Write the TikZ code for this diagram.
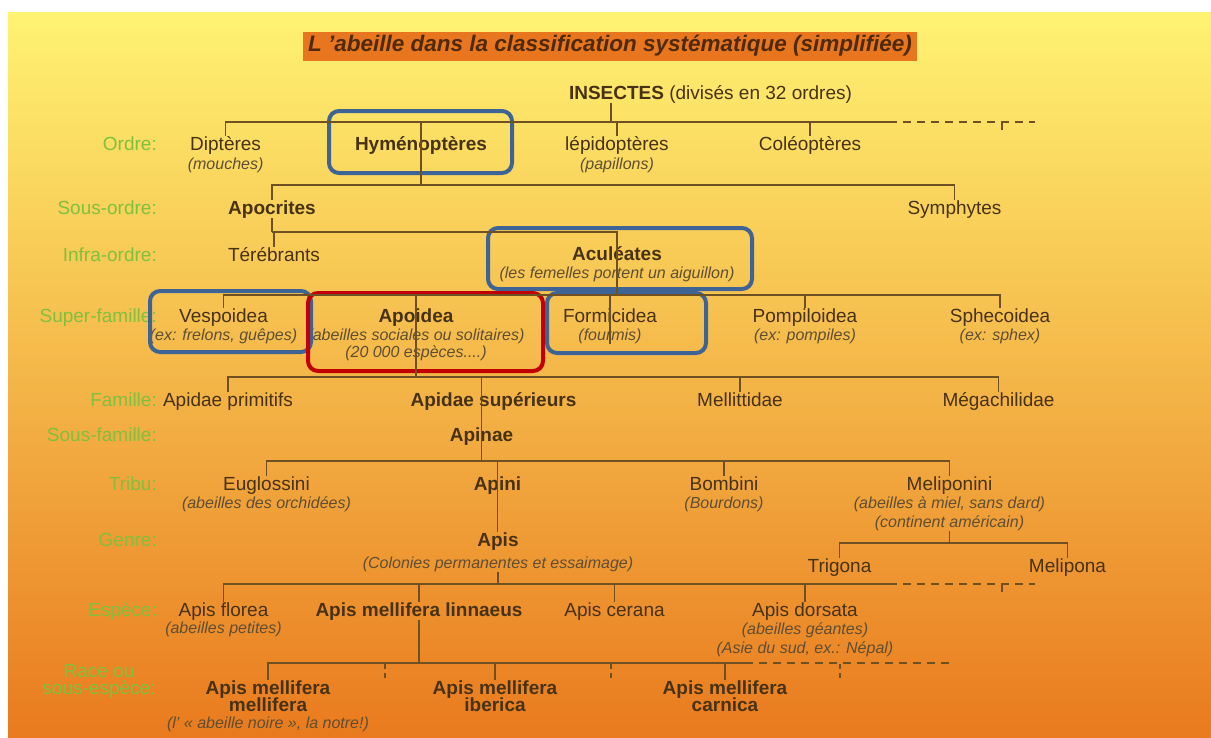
\documentclass[tikz,border=0pt]{standalone}
\usepackage{fontspec}
\setmainfont{Liberation Sans}
\usepackage{tikz}
\definecolor{texte}{RGB}{72,50,20}
\definecolor{gris}{RGB}{95,78,50}
\definecolor{trait}{RGB}{110,80,35}
\definecolor{vert}{RGB}{128,192,60}
\definecolor{bleu}{RGB}{62,100,150}
\definecolor{rouge}{RGB}{195,0,0}
\definecolor{jaune}{RGB}{255,243,115}
\definecolor{orangec}{RGB}{246,188,78}
\definecolor{oranged}{RGB}{233,122,30}
\definecolor{bandeau}{RGB}{232,118,30}
\definecolor{titre}{RGB}{80,42,12}
\newcommand{\sous}[1]{{\mdseries\itshape\fontsize{16}{19}\selectfont\color{gris}#1}}

\begin{document}
\begin{tikzpicture}[x=1pt, y=-1pt,
    taxon/.style={anchor=base, align=center, inner sep=0pt, text=texte, font=\fontsize{19}{19}\selectfont},
    gras/.style={taxon, font=\fontsize{19}{19}\selectfont\bfseries},
    niveau/.style={anchor=base east, inner sep=0pt, text=vert, font=\fontsize{19}{19}\selectfont},
    lien/.style={draw=trait, line width=1.3pt},
    pointille/.style={lien, dash pattern=on 8pt off 6pt},
    cadre/.style={line width=4pt, rounded corners=10pt}
  ]
  \useasboundingbox (0,0) rectangle (1211,737);
  \fill[white] (0,0) rectangle (1211,737);
  \shade[top color=jaune, middle color=orangec, bottom color=oranged] (8,12) rectangle (1211,737);

  % titre
  \node[fill=bandeau, text=titre, inner sep=0pt, minimum width=614, minimum height=29,
        font=\fontsize{22.5}{22.5}\selectfont\bfseries\itshape] (titre) at (610,46)
        {L ’abeille dans la classification systématique (simplifiée)};

  % niveaux (base = derniere ligne)
  \node[niveau] (l-ordre) at (157,150) {Ordre:};
  \node[niveau] (l-sordre) at (157,214) {Sous-ordre:};
  \node[niveau] (l-infra) at (157,261) {Infra-ordre:};
  \node[niveau] (l-super) at (157,322) {Super-famille:};
  \node[niveau] (l-fam) at (157,406) {Famille:};
  \node[niveau] (l-sfam) at (157,441) {Sous-famille:};
  \node[niveau] (l-tribu) at (157,490) {Tribu:};
  \node[niveau] (l-genre) at (157,546) {Genre:};
  \node[niveau] (l-espece) at (157,616) {Espèce:};
  \node[niveau, anchor=base, align=center] (l-race) at (99,694) {Race ou\\[-2pt]sous-espèce:};

  % taxons
  \node[taxon] (insectes) at (710.5,99) {\textbf{INSECTES} (divisés en 32 ordres)};

  \node[taxon] (dipt) at (225.6,169) {Diptères\\\sous{(mouches)}};
  \node[gras] (hym) at (421,150) {Hyménoptères};
  \node[taxon] (lepi) at (617,169) {lépidoptères\\\sous{(papillons)}};
  \node[taxon] (coleo) at (810,150) {Coléoptères};

  \node[gras] (apoc) at (272,214) {Apocrites};
  \node[taxon] (symph) at (954.5,214) {Symphytes};

  \node[taxon] (tereb) at (274,261) {Térébrants};
  \node[gras] (acu) at (617,278) {Aculéates\\[-1pt]\sous{(les femelles portent un aiguillon)}};

  \node[taxon] (vesp) at (223.5,340) {Vespoidea\\[-1pt]\sous{(ex: frelons, guêpes)}};
  \node[gras] (apoi) at (416,357) {Apoidea\\[-1pt]\sous{(abeilles sociales ou solitaires)}\\[-2pt]\sous{(20 000 espèces....)}};
  \node[taxon] (formi) at (610,340) {Formicidea\\[-1pt]\sous{(fourmis)}};
  \node[taxon] (pomp) at (805,340) {Pompiloidea\\[-1pt]\sous{(ex: pompiles)}};
  \node[taxon] (sphec) at (1000,340) {Sphecoidea\\[-1pt]\sous{(ex: sphex)}};

  \node[taxon] (apprim) at (228,406) {Apidae primitifs};
  \node[gras] (apsup) at (493.5,406) {Apidae supérieurs};
  \node[taxon] (mellit) at (740,406) {Mellittidae};
  \node[taxon] (megach) at (998.5,406) {Mégachilidae};

  \node[gras] (apinae) at (481.5,441) {Apinae};

  \node[taxon] (eugl) at (266.5,508) {Euglossini\\[-1pt]\sous{(abeilles des orchidées)}};
  \node[gras] (apini) at (497.5,490) {Apini};
  \node[taxon] (bomb) at (724,508) {Bombini\\[-1pt]\sous{(Bourdons)}};
  \node[taxon] (melipi) at (949.5,527) {Meliponini\\[-1pt]\sous{(abeilles à miel, sans dard)}\\\sous{(continent américain)}};

  \node[gras] (apis) at (498,568) {Apis\\[3pt]\sous{(Colonies permanentes et essaimage)}};
  \node[taxon] (trigona) at (839.5,572) {Trigona};
  \node[taxon] (melipona) at (1067.5,572) {Melipona};

  \node[taxon] (florea) at (223.5,633) {Apis florea\\[-2pt]\sous{(abeilles petites)}};
  \node[gras] (linn) at (419,616) {Apis mellifera linnaeus};
  \node[taxon] (cerana) at (614.5,616) {Apis cerana};
  \node[taxon] (dorsata) at (805,653) {Apis dorsata\\[-1pt]\sous{(abeilles géantes)}\\\sous{(Asie du sud, ex.: Népal)}};

  \node[gras] (ammell) at (268,728) {Apis mellifera\\[-2pt]mellifera\\[-2pt]\sous{(l’ « abeille noire », la notre!)}};
  \node[gras] (amiber) at (495,711) {Apis mellifera\\[-2pt]iberica};
  \node[gras] (amcarn) at (725,711) {Apis mellifera\\[-2pt]carnica};

  % cadres
  \draw[cadre, bleu] (329,111) rectangle (512,173);
  \draw[cadre, bleu] (488,228) rectangle (752,289);
  \draw[cadre, bleu] (150,291) rectangle (311,352);
  \draw[cadre, rouge] (308,293) rectangle (543,371);
  \draw[cadre, bleu] (547,293) rectangle (706,353);

  % ordres
  \coordinate (b-ordre) at (611,122);
  \coordinate (b-ordre-fin) at (889,122);
  \draw[lien] (insectes.south -| b-ordre) -- (b-ordre);
  \foreach \n in {dipt,lepi,coleo}
    \draw[lien] (b-ordre) -| (\n.north);
  \draw[lien] (b-ordre) -- (b-ordre-fin);
  \draw[pointille] (b-ordre-fin) -- ++(146,0);
  \draw[pointille] ([xshift=113pt]b-ordre-fin) -- ++(0,12);

  % sous-ordres
  \coordinate (b-sordre) at (421,185);
  \draw[lien] (b-ordre) -| (hym.south) -- (b-sordre);
  \draw[lien] (b-sordre) -| (apoc.north);
  \draw[lien] (b-sordre) -| (symph.north);

  % infra-ordres
  \coordinate (b-infra) at (272,232);
  \draw[lien] (apoc.south) -- (b-infra);
  \draw[lien] (b-infra) -| (tereb.north);
  \draw[lien] (b-infra) -| (acu.south);

  % super-familles
  \coordinate (b-super) at (617,295);
  \draw[lien] (acu.south) -- (b-super);
  \foreach \n in {vesp,pomp,sphec}
    \draw[lien] (b-super) -| (\n.north);
  \draw[lien] (b-super) -| (apoi.south);
  \draw[lien] (b-super) -| (formi.south);

  % familles
  \coordinate (b-fam) at (416,377);
  \draw[lien] (apoi.south) -- (b-fam);
  \foreach \n in {apprim,mellit,megach}
    \draw[lien] (b-fam) -| (\n.north);
  \draw[lien] (b-fam) -| (apsup.north -| apinae) -- (apinae.south);

  % tribus
  \coordinate (b-tribu) at (481.5,461);
  \draw[lien] (apinae.south) -- (b-tribu);
  \foreach \n in {eugl,bomb,melipi}
    \draw[lien] (b-tribu) -| (\n.north);
  \draw[lien] (b-tribu) -| (apini.south);

  % genres
  \draw[lien] (apini.south) -- (apini.south |- apis.north);
  \coordinate (b-melip) at (949.5,543);
  \draw[lien] (melipi.south) -- (b-melip);
  \draw[lien] (b-melip) -| (trigona.north);
  \draw[lien] (b-melip) -| (melipona.north);

  % especes
  \coordinate (b-espece) at (498,584);
  \coordinate (b-espece-fin) at (889,584);
  \draw[lien] (apis.south) -- (b-espece);
  \foreach \n in {florea,linn,cerana,dorsata}
    \draw[lien] (b-espece) -| (\n.north);
  \draw[lien] (b-espece) -- (b-espece-fin);
  \draw[pointille] (b-espece-fin) -- ++(146,0);
  \draw[pointille] ([xshift=113pt]b-espece-fin) -- ++(0,13);

  % races
  \coordinate (b-race) at (419,663);
  \coordinate (b-race-fin) at (745,663);
  \draw[lien] (linn.south) -- (b-race);
  \foreach \n in {ammell,amiber,amcarn}
    \draw[lien] (b-race) -| (\n.north);
  \draw[lien] (b-race) -- (b-race-fin);
  \draw[pointille] (b-race-fin) -- (953,663);
  \foreach \x in {385,611,840}
    \draw[pointille, dash pattern=on 5pt off 4pt] (\x,664) -- ++(0,14);
\end{tikzpicture}
\end{document}
